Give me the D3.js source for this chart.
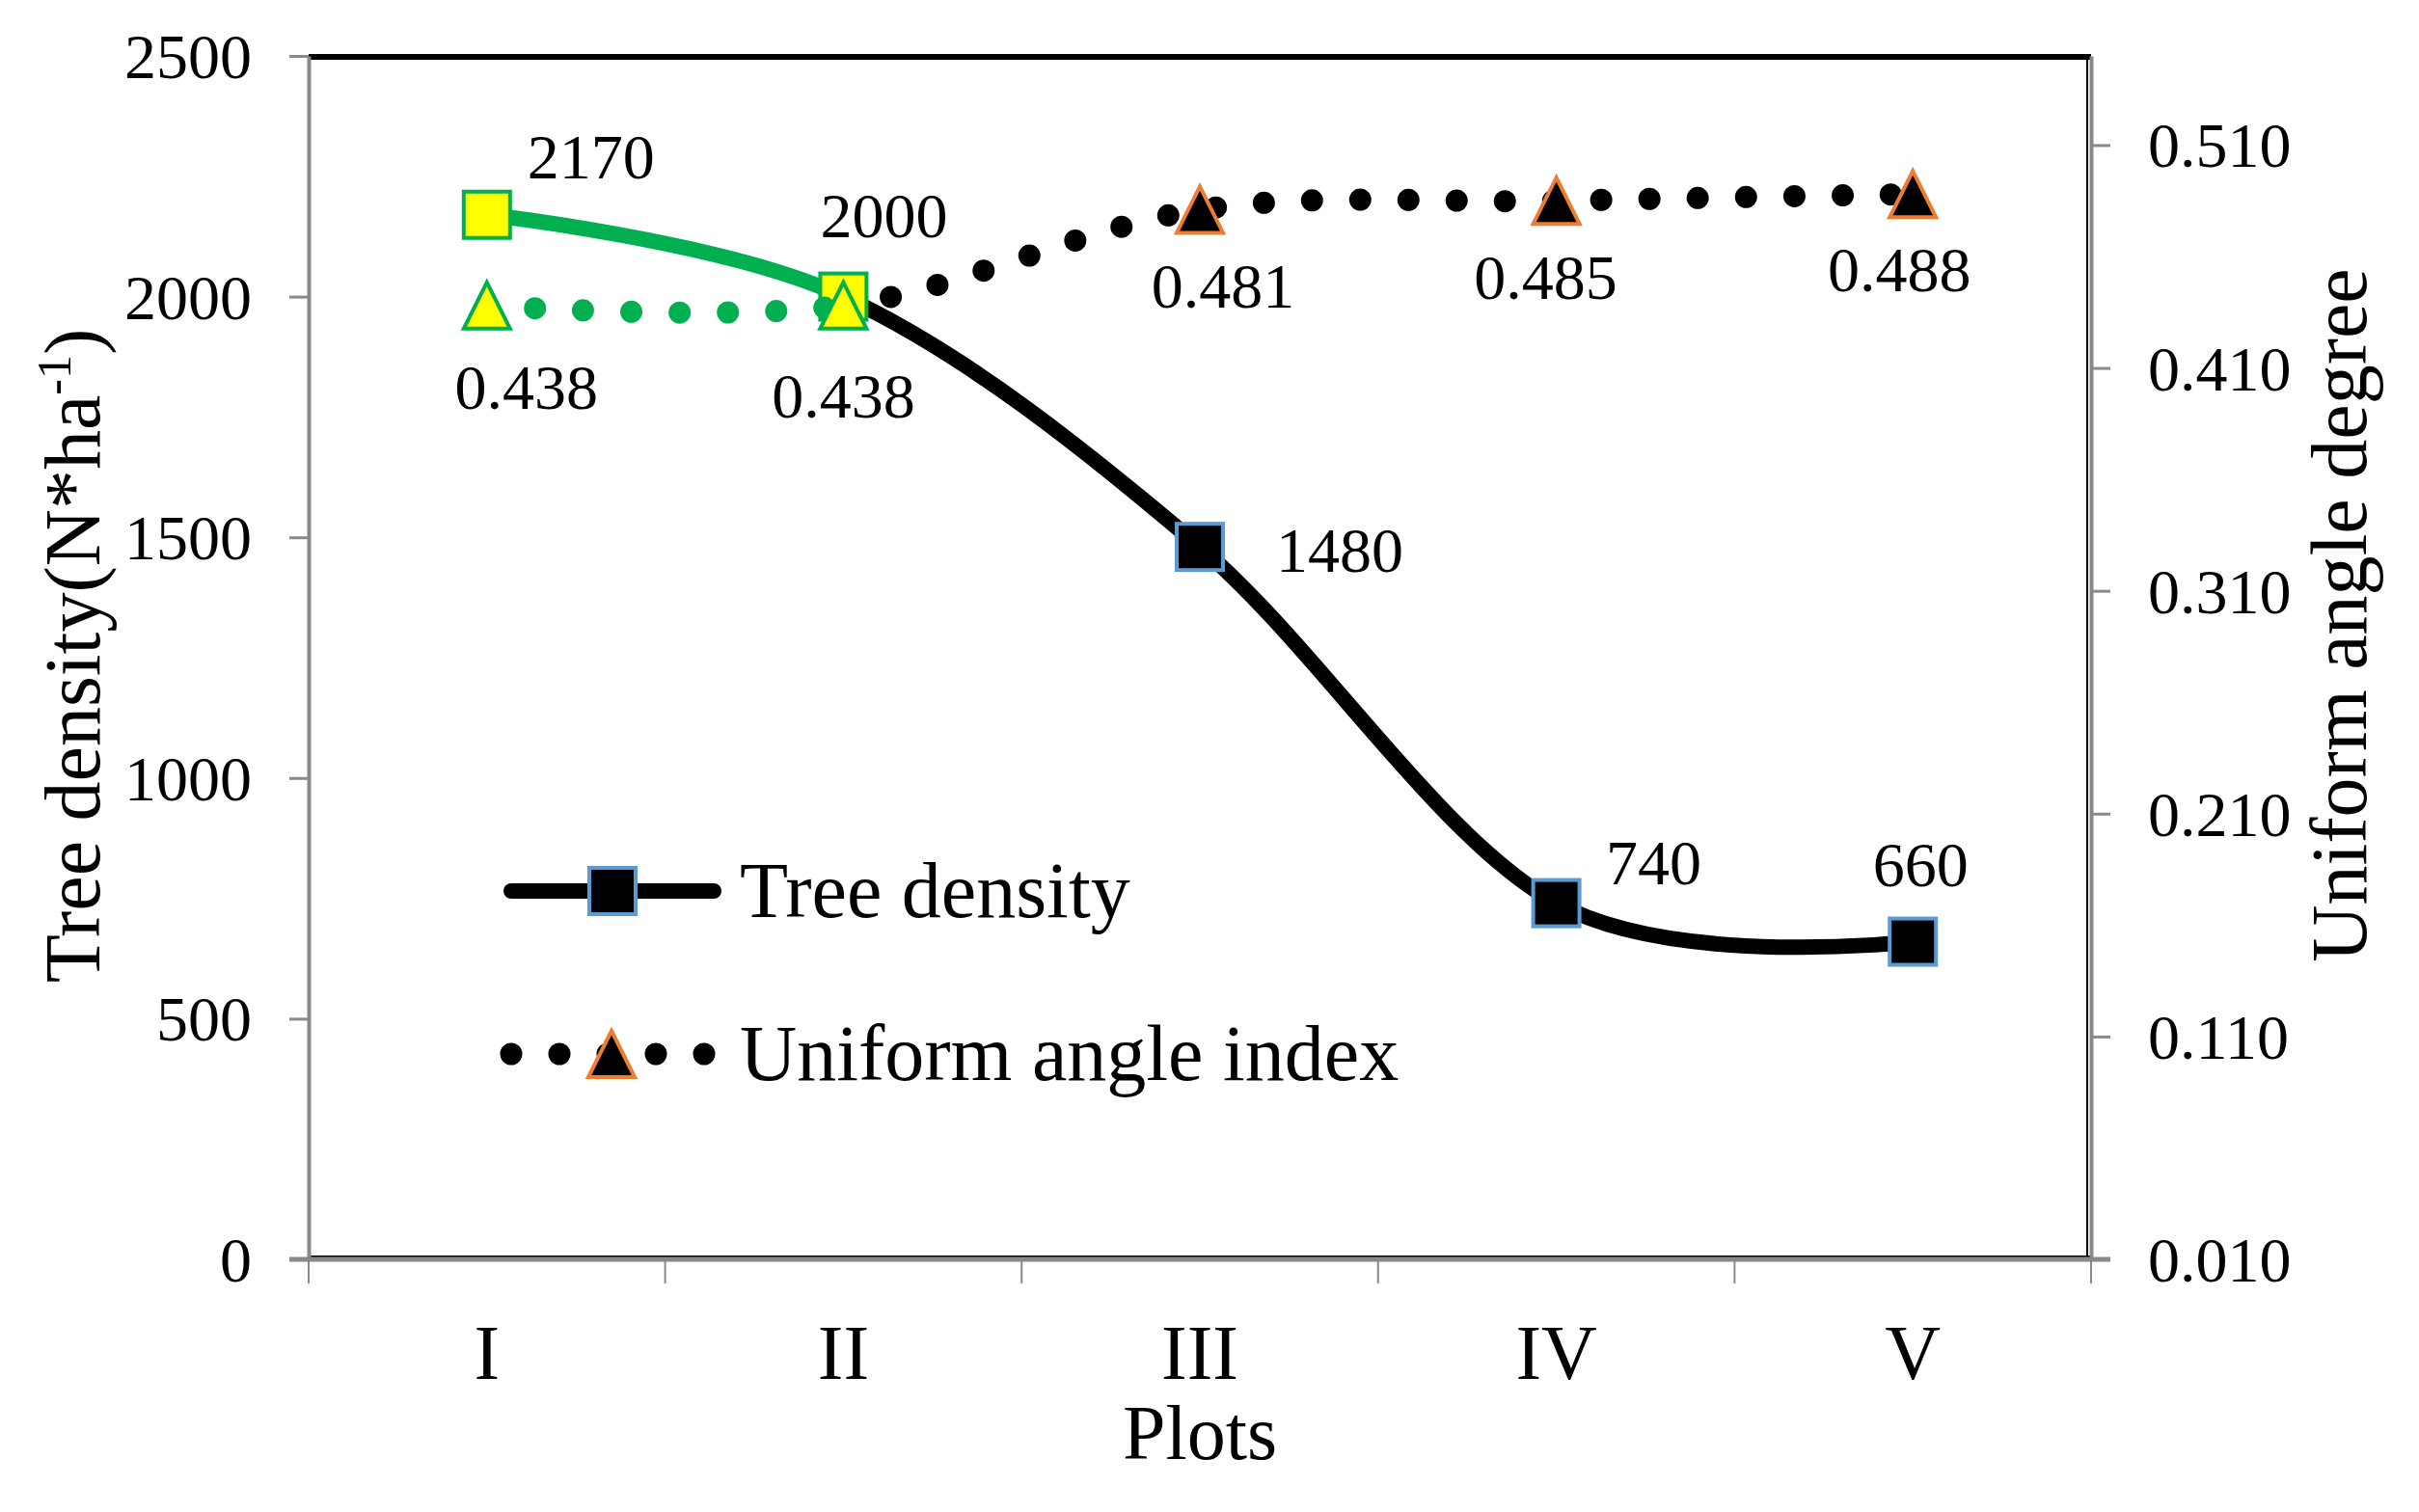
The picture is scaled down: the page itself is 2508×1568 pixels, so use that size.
<!DOCTYPE html>
<html>
<head>
<meta charset="utf-8">
<script src="https://cdn.jsdelivr.net/npm/d3@7"></script>
<style>
  html, body { margin: 0; padding: 0; background: #fff; }
  svg { display: block; }
  text { font-family: "Liberation Serif", "Times New Roman", serif; fill: #000; }
</style>
</head>
<body>
<svg id="chart" width="2508" height="1568"></svg>
<script>
// ---------------- data ----------------
const categories = ["I", "II", "III", "IV", "V"];
const treeDensity = [2170, 2000, 1480, 740, 660];
const uniformAngle = [0.438, 0.438, 0.481, 0.485, 0.488];
const densityLabels = ["2170", "2000", "1480", "740", "660"];
const uniformLabels = ["0.438", "0.438", "0.481", "0.485", "0.488"];
const leftTicks = [0, 500, 1000, 1500, 2000, 2500];
const rightTicks = [0.010, 0.110, 0.210, 0.310, 0.410, 0.510];
const leftDomain = [0, 2500];
const rightDomain = [0.01, 0.55];
const seriesNames = ["Tree density", "Uniform angle index"];
const xTitle = "Plots";
const rightTitle = "Uniform angle degree";

// label offsets (layout, relative to each point; text-anchor middle)
const densityLabelOffsets = [[108, -38], [42, -62], [145, 26], [101, -20], [8, -58]];
const uniformLabelOffsets = [[41, 107], [0, 116], [24, 102], [-11, 102], [-14, 101]];

// ---------------- layout ----------------
const M = { left: 320, right: 2168, top: 58, bottom: 1306 };
const GRAY = "#898989", GREEN = "#00B050", YELLOW = "#FFFF00",
      BLUE = "#5B9BD5", ORANGE = "#ED7D31";

const svg = d3.select("#chart");

const x = d3.scaleBand().domain(categories).range([M.left, M.right]).padding(0);
const xc = c => x(c) + x.bandwidth() / 2;
const yL = d3.scaleLinear().domain(leftDomain).range([M.bottom, M.top]);
const yR = d3.scaleLinear().domain(rightDomain).range([M.bottom, M.top]);

// plot-area frame (black)
svg.append("line").attr("x1", M.left).attr("x2", M.right).attr("y1", M.top + 1).attr("y2", M.top + 1)
  .attr("stroke", "#000").attr("stroke-width", 6);
svg.append("line").attr("x1", M.right - 4).attr("x2", M.right - 4).attr("y1", M.top).attr("y2", M.bottom)
  .attr("stroke", "#000").attr("stroke-width", 2);
svg.append("line").attr("x1", M.left).attr("x2", M.right).attr("y1", M.bottom - 3).attr("y2", M.bottom - 3)
  .attr("stroke", "#000").attr("stroke-width", 2);

// left axis
const axL = svg.append("g").attr("transform", `translate(${M.left},0)`)
  .call(d3.axisLeft(yL).tickValues(leftTicks).tickSize(20).tickSizeOuter(0).tickPadding(39).tickFormat(d3.format("d")));
// right axis
const axR = svg.append("g").attr("transform", `translate(${M.right},0)`)
  .call(d3.axisRight(yR).tickValues(rightTicks).tickSize(20).tickSizeOuter(0).tickPadding(39).tickFormat(d3.format(".3f")));
[axL, axR].forEach(g => {
  g.select(".domain").attr("stroke", GRAY).attr("stroke-width", 4);
  g.selectAll(".tick line").attr("stroke", GRAY).attr("stroke-width", 3);
  g.selectAll(".tick text").attr("font-family", "Liberation Serif, Times New Roman, serif")
    .attr("font-size", 66).attr("fill", "#000").attr("dy", "0.34em");
});

// bottom axis (category boundaries as ticks)
const bounds = categories.map(c => x(c)).concat([x.range()[1]]);
const axB = svg.append("g");
axB.append("line").attr("x1", M.left - 20).attr("x2", M.right + 20)
  .attr("y1", M.bottom).attr("y2", M.bottom).attr("stroke", GRAY).attr("stroke-width", 5);
axB.selectAll("line.tk").data(bounds).join("line").attr("class", "tk")
  .attr("x1", d => d).attr("x2", d => d).attr("y1", M.bottom).attr("y2", M.bottom + 25)
  .attr("stroke", GRAY).attr("stroke-width", 2);
axB.selectAll("text").data(categories).join("text")
  .attr("x", d => xc(d)).attr("y", 1430).attr("text-anchor", "middle").attr("font-size", 80).text(d => d);

// axis titles
svg.append("text").attr("x", (M.left + M.right) / 2).attr("y", 1513).attr("text-anchor", "middle")
  .attr("font-size", 80).text(xTitle);
const lt = svg.append("text").attr("transform", "translate(103,680) rotate(-90)")
  .attr("text-anchor", "middle").attr("font-size", 82);
lt.append("tspan").text("Tree density(N*ha");
lt.append("tspan").attr("font-size", 50).attr("dy", -30).text("-1");
lt.append("tspan").attr("dy", 30).text(")");
svg.append("text").attr("transform", "translate(2453,638) rotate(-90)")
  .attr("text-anchor", "middle").attr("font-size", 82).text(rightTitle);

// ---------------- curves ----------------
// capture each bezier segment from d3's cardinal curve
function curveSegments(pts) {
  const segs = []; let start = null;
  const ctx = {
    moveTo(px, py) { start = [px, py]; },
    lineTo(px, py) { segs.push(`L${px},${py}`); },
    bezierCurveTo(a, b, c, d, px, py) { segs.push(`C${a},${b},${c},${d},${px},${py}`); },
    closePath() {}
  };
  d3.line().x(p => p[0]).y(p => p[1]).curve(d3.curveCardinal.tension(0)).context(ctx)(pts);
  return { start, segs };
}

const densPts = categories.map((c, i) => [xc(c), yL(treeDensity[i])]);
const unifPts = categories.map((c, i) => [xc(c), yR(uniformAngle[i])]);
const dens = curveSegments(densPts);
const unif = curveSegments(unifPts);

function drawSeriesLines(curve, pts, style) {
  // first segment (I -> II) highlighted green; rest black, restarting at II
  svg.append("path").attr("d", `M${pts[0][0]},${pts[0][1]}` + curve.segs[0])
    .attr("fill", "none").attr("stroke", GREEN).call(style);
  svg.append("path").attr("d", `M${pts[1][0]},${pts[1][1]}` + curve.segs.slice(1).join(""))
    .attr("fill", "none").attr("stroke", "#000").call(style);
}
const solidStyle = s => s.attr("stroke-width", 16).attr("stroke-linecap", "round").attr("stroke-linejoin", "round");
const dotStyle = s => s.attr("stroke-width", 23).attr("stroke-linecap", "round").attr("stroke-dasharray", "0 50");

function square(g, cx, cy, fill, stroke) {
  g.append("rect").attr("x", cx - 24).attr("y", cy - 24).attr("width", 48).attr("height", 48)
    .attr("fill", fill).attr("stroke", stroke).attr("stroke-width", 4);
}
function triangle(g, cx, cy, fill, stroke) {
  g.append("path").attr("d", `M${cx},${cy - 24}L${cx + 24},${cy + 24}L${cx - 24},${cy + 24}Z`)
    .attr("fill", fill).attr("stroke", stroke).attr("stroke-width", 4).attr("stroke-linejoin", "miter");
}

// Tree density series
drawSeriesLines(dens, densPts, solidStyle);
const gD = svg.append("g");
densPts.forEach((p, i) => square(gD, p[0], p[1], i < 2 ? YELLOW : "#000", i < 2 ? GREEN : BLUE));

// Uniform angle series
drawSeriesLines(unif, unifPts, dotStyle);
const gU = svg.append("g");
unifPts.forEach((p, i) => triangle(gU, p[0], p[1], i < 2 ? YELLOW : "#000", i < 2 ? GREEN : ORANGE));

// data labels
svg.append("g").selectAll("text").data(densityLabels).join("text")
  .attr("x", (d, i) => densPts[i][0] + densityLabelOffsets[i][0])
  .attr("y", (d, i) => densPts[i][1] + densityLabelOffsets[i][1])
  .attr("text-anchor", "middle").attr("font-size", 66).text(d => d);
svg.append("g").selectAll("text").data(uniformLabels).join("text")
  .attr("x", (d, i) => unifPts[i][0] + uniformLabelOffsets[i][0])
  .attr("y", (d, i) => unifPts[i][1] + uniformLabelOffsets[i][1])
  .attr("text-anchor", "middle").attr("font-size", 66).text(d => d);

// ---------------- legend ----------------
const lg = svg.append("g");
lg.append("path").attr("d", "M530,924L740,924").attr("fill", "none").attr("stroke", "#000").call(solidStyle);
square(lg, 635, 924, "#000", BLUE);
lg.append("text").attr("x", 767).attr("y", 951).attr("font-size", 82).text(seriesNames[0]);
lg.append("path").attr("d", "M530,1093L732,1093").attr("fill", "none").attr("stroke", "#000").call(dotStyle);
triangle(lg, 634, 1093, "#000", ORANGE);
lg.append("text").attr("x", 767).attr("y", 1120).attr("font-size", 82).text(seriesNames[1]);
</script>
</body>
</html>
